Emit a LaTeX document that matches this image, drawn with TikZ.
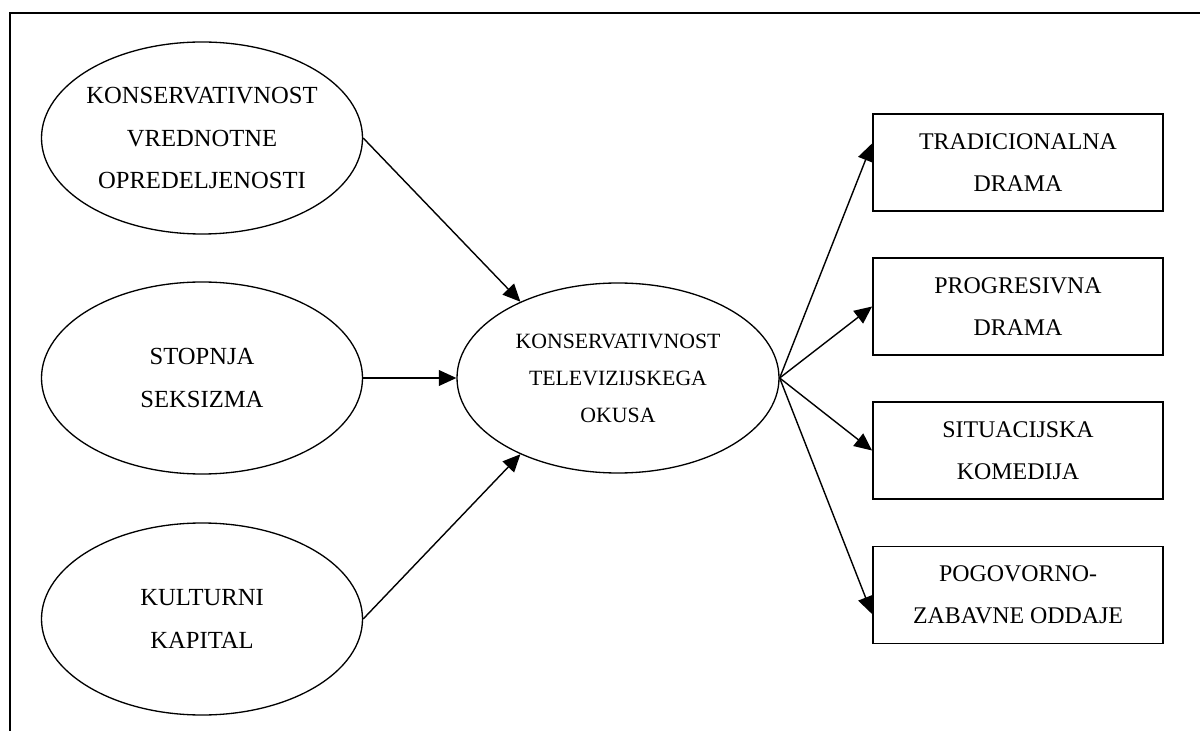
\documentclass[tikz,border=0pt]{standalone}
\usepackage{fontspec}
\setmainfont{Liberation Serif}
\usepackage{xcolor}
\usepackage{tikz}
\usetikzlibrary{
  shapes, shapes.geometric,
  arrows.meta, calc
}
\tikzset{
  % Latent variable ellipse
  latent/.style={
    ellipse, draw=black, line width=0.75pt,
    align=center, inner sep=0pt, inner xsep=-6pt,
    minimum width=6.42cm, minimum height=3.84cm,
    font=\fontsize{14}{24}\selectfont
  },
  latent mid/.style={latent, minimum width=6.44cm, minimum height=3.8cm,
    font=\fontsize{12.4}{21}\selectfont},
  % Genre box
  genrebox/.style={
    rectangle, draw=black, line width=1.1pt,
    align=center,
    minimum width=5.8cm, minimum height=1.94cm,
    font=\fontsize{13.6}{24}\selectfont
  },
  % Arrows
  arr/.style={-{Triangle[length=10pt,width=9pt]}, line width=0.8pt},
}

\begin{document}
\begin{tikzpicture}
  \useasboundingbox (0,0) rectangle (24,-14.62);
  \draw[line width=1.1pt] (0.2,-14.62) -- (0.2,-0.26) -- (24,-0.26);

  % Predictors
  \node[latent] (vred) at (4.04,-2.76) {KONSERVATIVNOST\\VREDNOTNE\\OPREDELJENOSTI};
  \node[latent] (seks) at (4.04,-7.56) {STOPNJA\\SEKSIZMA};
  \node[latent] (kap)  at (4.04,-12.38) {KULTURNI\\KAPITAL};

  % Television taste
  \node[latent mid] (okus) at (12.36,-7.56) {KONSERVATIVNOST\\TELEVIZIJSKEGA\\OKUSA};

  \draw[arr] (vred.east) -- (okus.142);
  \draw[arr] (seks.east) -- (okus.west);
  \draw[arr] (kap.east)  -- (okus.218);

  % Genres
  \foreach \n/\y/\dy/\lbl in {
    trad/-3.25/0.38/{TRADICIONALNA\\DRAMA},
    prog/-6.13/0/{PROGRESIVNA\\DRAMA},
    sit/-9.01/0/{SITUACIJSKA\\KOMEDIJA},
    pog/-11.9/-0.38/{POGOVORNO-\\ZABAVNE ODDAJE}}{
    \node[genrebox] (\n) at (20.36,\y) {\lbl};
    \draw[arr] (okus.east) -- ([yshift=\dy cm]\n.west);
  }
\end{tikzpicture}
\end{document}
